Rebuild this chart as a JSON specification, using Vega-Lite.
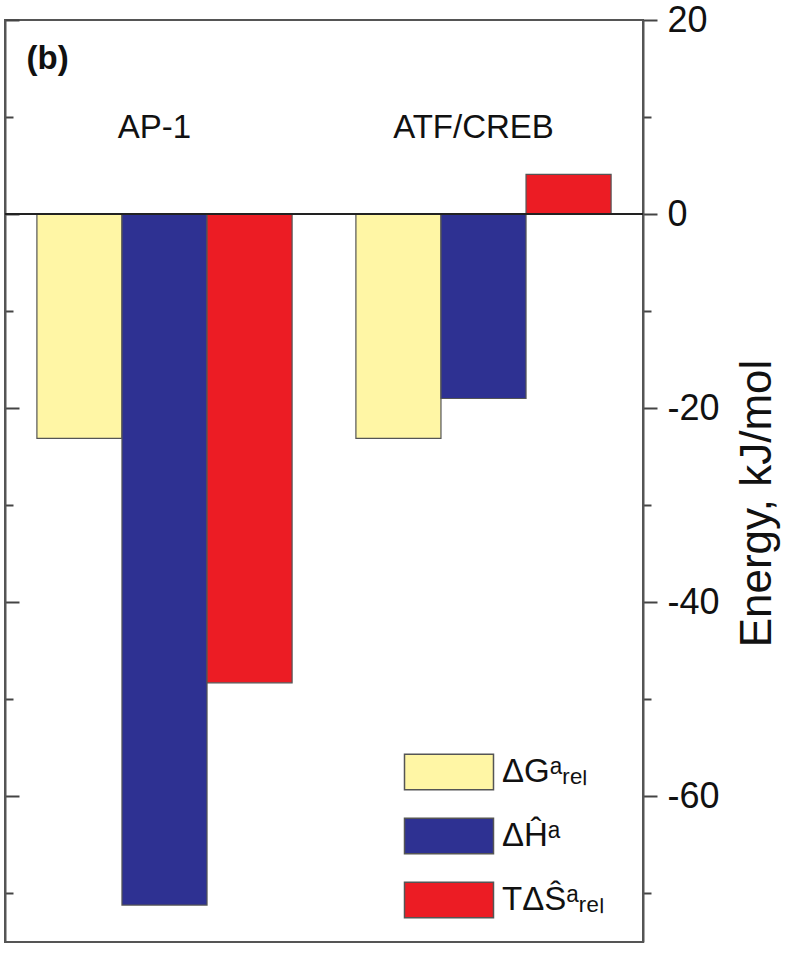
{
  "$schema": "https://vega.github.io/schema/vega-lite/v6.json",
  "autosize": {"type": "none"},
  "padding": {"left": 5, "top": 20, "right": 144, "bottom": 11},
  "width": 638,
  "height": 922,
  "config": {
    "view": {"stroke": "#555", "strokeWidth": 2},
    "font": "Liberation Sans"
  },
  "datasets": {
    "energy": [
      {"group": "AP-1", "series": "ΔGᵃᵣₑₗ", "value": -23.1},
      {"group": "AP-1", "series": "ΔĤᵃ", "value": -71.2},
      {"group": "AP-1", "series": "TΔŜᵃᵣₑₗ", "value": -48.3},
      {"group": "ATF/CREB", "series": "ΔGᵃᵣₑₗ", "value": -23.1},
      {"group": "ATF/CREB", "series": "ΔĤᵃ", "value": -19.0},
      {"group": "ATF/CREB", "series": "TΔŜᵃᵣₑₗ", "value": 4.1}
    ],
    "groups": [
      {"group": "AP-1"},
      {"group": "ATF/CREB"}
    ],
    "panel": [
      {"label": "(b)"}
    ]
  },
  "layer": [
    {
      "data": {"name": "energy"},
      "mark": {"type": "bar", "stroke": "#555", "strokeWidth": 1.2},
      "encoding": {
        "x": {
          "field": "group",
          "type": "nominal",
          "sort": ["AP-1", "ATF/CREB"],
          "scale": {"paddingInner": 0.2, "paddingOuter": 0.1},
          "axis": null
        },
        "xOffset": {
          "field": "series",
          "type": "nominal",
          "sort": ["ΔGᵃᵣₑₗ", "ΔĤᵃ", "TΔŜᵃᵣₑₗ"],
          "scale": {"paddingInner": 0, "paddingOuter": 0}
        },
        "y": {
          "field": "value",
          "type": "quantitative",
          "scale": {"domain": [-75, 20], "nice": false, "zero": false},
          "axis": {
            "orient": "right",
            "values": [20, 10, 0, -10, -20, -30, -40, -50, -60, -70],
            "labelExpr": "datum.value % 20 === 0 ? toString(datum.value) : ''",
            "tickSize": {"condition": {"test": "datum.value % 20 === 0", "value": 14}, "value": 8},
            "tickColor": "#444",
            "tickWidth": 2,
            "domainColor": "#555",
            "domainWidth": 2,
            "grid": false,
            "labelFontSize": 36,
            "labelFont": "Liberation Sans",
            "labelColor": "#111",
            "labelPadding": 10,
            "labelBaseline": "middle",
            "title": "Energy, kJ/mol",
            "titleFont": "Liberation Sans",
            "titleFontSize": 44,
            "titleFontWeight": "normal",
            "titleColor": "#111",
            "titleAngle": 270,
            "titleBaseline": "top",
            "titlePadding": 16,
            "titleY": 483
          }
        },
        "color": {
          "field": "series",
          "type": "nominal",
          "scale": {
            "domain": ["ΔGᵃᵣₑₗ", "ΔĤᵃ", "TΔŜᵃᵣₑₗ"],
            "range": ["#FFF6A5", "#2E3192", "#EC1C24"]
          },
          "legend": {
            "orient": "none",
            "legendX": 421,
            "legendY": 729,
            "title": null,
            "symbolType": "M-2,-0.8H2V0.8H-2Z",
            "symbolSize": 1980,
            "symbolStrokeColor": "#555",
            "symbolStrokeWidth": 1.5,
            "labelFontSize": 33,
            "labelFont": "Liberation Sans",
            "labelColor": "#111",
            "labelOffset": 30,
            "labelLimit": 300,
            "rowPadding": 20,
            "padding": 0
          }
        }
      }
    },
    {
      "data": {"name": "groups"},
      "mark": {"type": "rule", "color": "#222", "strokeWidth": 2},
      "encoding": {
        "y": {
          "datum": 0,
          "type": "quantitative",
          "scale": {"domain": [-75, 20], "nice": false, "zero": false},
          "axis": {
            "orient": "left",
            "values": [20, 10, 0, -10, -20, -30, -40, -50, -60, -70],
            "labels": false,
            "tickSize": {"condition": {"test": "datum.value % 20 === 0", "value": -14}, "value": -8},
            "tickColor": "#444",
            "tickWidth": 2,
            "domainColor": "#555",
            "domainWidth": 2,
            "grid": false,
            "title": null
          }
        }
      }
    },
    {
      "data": {"name": "groups"},
      "mark": {"type": "text", "fontSize": 33, "font": "Liberation Sans", "align": "center", "baseline": "alphabetic", "dx": -10, "color": "#111"},
      "encoding": {
        "x": {"field": "group", "type": "nominal", "sort": ["AP-1", "ATF/CREB"], "axis": null},
        "y": {"datum": 7.8, "type": "quantitative", "axis": null},
        "text": {"field": "group"}
      }
    },
    {
      "data": {"name": "panel"},
      "mark": {"type": "text", "fontSize": 33, "fontWeight": "bold", "font": "Liberation Sans", "align": "left", "baseline": "alphabetic", "dx": -138, "color": "#111"},
      "encoding": {
        "x": {"datum": "AP-1", "type": "nominal", "axis": null},
        "y": {"datum": 15, "type": "quantitative", "axis": null},
        "text": {"field": "label"}
      }
    }
  ],
  "resolve": {"axis": {"y": "independent"}}
}
